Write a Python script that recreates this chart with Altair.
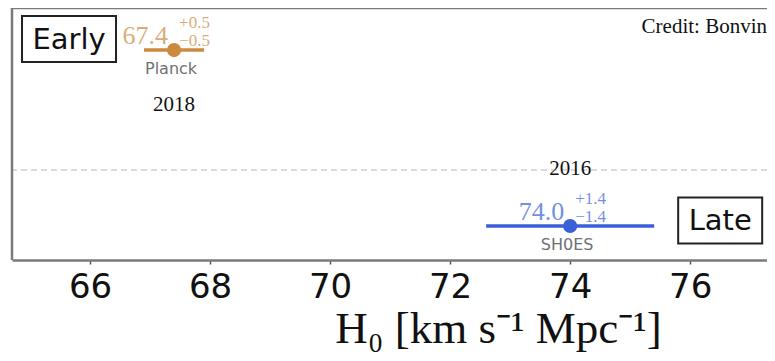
import altair as alt
import pandas as pd

# ---- data ----
names = ["Planck", "SH0ES"]
h0 = [67.4, 74.0]
err_up = [0.5, 1.4]
err_down = [0.5, 1.4]
years = ["2018", "2016"]
rows = [0.833, 0.135]          # vertical slot of each measurement
year_rows = [0.591, 0.337]     # vertical slot of the year notes
palette = ["#cc8a3c", "#3a5fd8"]

groups = ["Early", "Late"]
group_x = [65.65, 76.5]
group_y = [0.877, 0.157]

separator_y = [0.357]
x_ticks = [66, 68, 70, 72, 74, 76]
x_domain = [64.70, 77.28]
credit = ["Credit: Bonvin"]
credit_x = [77.28]
credit_y = [0.90]

meas = pd.DataFrame({
    "name": names,
    "h0": h0,
    "lo": [v - e for v, e in zip(h0, err_down)],
    "hi": [v + e for v, e in zip(h0, err_up)],
    "row": rows,
    "main": [f"{v:.1f}" for v in h0],
    "sup": [f"+{e}" for e in err_up],
    "sub": [f"\u2212{e}" for e in err_down],
    "year": years,
    "year_row": year_rows,
})
grp = pd.DataFrame({"group": groups, "gx": group_x, "gy": group_y})
sep = pd.DataFrame({"y": separator_y})
cred = pd.DataFrame({"t": credit, "x": credit_x, "y": credit_y})
frame = pd.DataFrame({"fx": [x_domain[0]], "fy": [1.0]})

xs = alt.Scale(domain=x_domain, nice=False, zero=False)
ys = alt.Scale(domain=[0, 1], nice=False, zero=False)
cs = alt.Scale(domain=names, range=palette)

x_axis = alt.Axis(
    values=x_ticks, format="d", grid=False,
    labelFont="DejaVu Sans", labelFontSize=34, labelColor="#111",
    labelPadding=6, tickSize=4, tickColor="#555", tickWidth=1.5,
    domain=True, domainColor="#7a7a7a", domainWidth=2.5,
    title="H\u2080 [km s\u207b\u00b9 Mpc\u207b\u00b9]",
    titleFont="Liberation Serif", titleFontSize=45, titleFontWeight="normal",
    titleColor="#111", titleX=486, titleY=82, titleAlign="center",
    titleBaseline="alphabetic",
)
X = alt.X("h0:Q", scale=xs, axis=x_axis)
Y = alt.Y("row:Q", scale=ys, axis=None)
C = alt.Color("name:N", scale=cs, legend=None)

base = alt.Chart(meas)

separator = alt.Chart(sep).mark_rule(color="#cfcfcf", strokeWidth=1.5, strokeDash=[6, 4]).encode(
    y=alt.Y("y:Q", scale=ys, axis=None)
)

# frame: left and top edges (bottom edge is the x-axis domain line)
left_edge = alt.Chart(frame).mark_rule(color="#7a7a7a", strokeWidth=2.5).encode(
    x=alt.X("fx:Q", scale=xs, axis=x_axis)
)
top_edge = alt.Chart(frame).mark_rule(color="#7a7a7a", strokeWidth=2.5).encode(
    y=alt.Y("fy:Q", scale=ys, axis=None)
)

bars = base.mark_rule(strokeWidth=3.5).encode(
    x=alt.X("lo:Q", scale=xs, axis=x_axis), x2="hi:Q", y=Y, color=C
)

points = base.mark_circle(size=200, opacity=1).encode(x=X, y=Y, color=C)

main_txt = base.mark_text(align="right", baseline="alphabetic", dx=-6, dy=-6,
                          font="Liberation Serif", fontSize=26, opacity=0.7).encode(
    x=X, y=Y, color=C, text="main:N")
sup_txt = base.mark_text(align="left", baseline="alphabetic", dx=5, dy=-22,
                         font="Liberation Serif", fontSize=17, opacity=0.7).encode(
    x=X, y=Y, color=C, text="sup:N")
sub_txt = base.mark_text(align="left", baseline="alphabetic", dx=5, dy=-4,
                         font="Liberation Serif", fontSize=17, opacity=0.7).encode(
    x=X, y=Y, color=C, text="sub:N")
name_txt = base.mark_text(align="center", baseline="alphabetic", dx=-3, dy=24,
                          font="DejaVu Sans", fontSize=16, color="#707070").encode(
    x=X, y=Y, text="name:N")
year_txt = base.mark_text(align="center", baseline="alphabetic",
                          font="Liberation Serif", fontSize=21, color="#111").encode(
    x=X, y=alt.Y("year_row:Q", scale=ys, axis=None), text="year:N")

box_half = {"Early": (47, 23), "Late": (42, 23)}
boxes = []
for g, (hw, hh) in box_half.items():
    boxes.append(
        alt.Chart(grp).transform_filter(alt.datum.group == g).mark_rect(
            fill="white", fillOpacity=0, stroke="#222", strokeWidth=2,
            xOffset=-hw, x2Offset=hw, yOffset=-hh, y2Offset=hh,
        ).encode(
            x=alt.X("gx:Q", scale=xs), x2="gx:Q",
            y=alt.Y("gy:Q", scale=ys), y2="gy:Q",
        )
    )
box_txt = alt.Chart(grp).mark_text(align="center", baseline="middle", dy=1,
                                   font="DejaVu Sans", fontSize=29, color="#111").encode(
    x=alt.X("gx:Q", scale=xs), y=alt.Y("gy:Q", scale=ys), text="group:N")

credit_txt = alt.Chart(cred).mark_text(align="right", baseline="alphabetic",
                                       font="Liberation Serif", fontSize=21, color="#111").encode(
    x=alt.X("x:Q", scale=xs), y=alt.Y("y:Q", scale=ys), text="t:N")

chart = alt.layer(
    separator, left_edge, top_edge, bars, points, main_txt, sup_txt, sub_txt,
    name_txt, year_txt, *boxes, box_txt, credit_txt,
).properties(
    width=755, height=252,
    autosize=alt.AutoSizeParams(type="none"),
    padding={"left": 4, "top": 0, "right": 0, "bottom": 92},
).configure_view(
    stroke=None
)

chart.save("out.html", embed_options={"renderer": "svg", "actions": False})
